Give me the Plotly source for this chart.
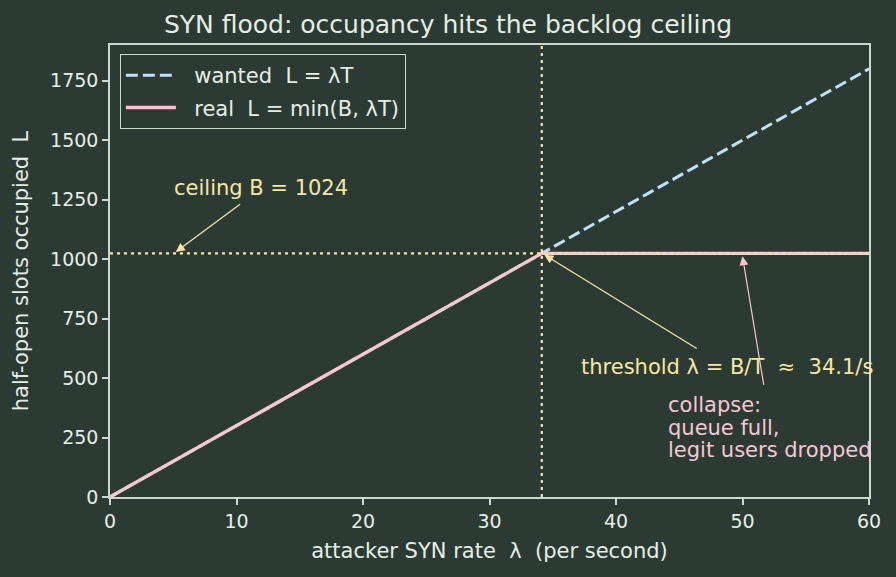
import numpy as np
import plotly.graph_objects as go

T = 30.0
B = 1024
lam = [0, 60]
wanted = [0, 1800]
real_x = [0, B / T, 60]
real_y = [0, B, B]
threshold = B / T

BG = "#2b3b34"
FG = "#e6eee4"
AX = "#c9d9cc"
YEL = "#f7e7a1"
PINK = "#f8c6d2"
BLUE = "#bfe1f7"
NB = "\u00a0"

fig = go.Figure()
fig.add_trace(go.Scatter(x=lam, y=wanted, mode="lines", name=f"{NB}{NB}wanted {NB}L = λT",
                         legendgroup="a",
                         line=dict(color=BLUE, width=3, dash="12px,5px")))
fig.add_trace(go.Scatter(x=real_x, y=real_y, mode="lines", name=f"{NB}{NB}real {NB}L = min(B, λT)",
                         legendgroup="b",
                         line=dict(color=PINK, width=3.3)))

fig.add_shape(type="line", x0=0, x1=60, y0=B, y1=B, xref="x", yref="y",
              line=dict(color=YEL, width=2.2, dash="3px,4px"))
fig.add_shape(type="line", x0=threshold, x1=threshold, y0=0, y1=1, xref="x", yref="paper",
              line=dict(color=YEL, width=2.2, dash="3px,4px"))

font = "DejaVu Sans"
fig.add_annotation(x=11.94, y=1300, text="ceiling B = 1024", showarrow=False,
                   font=dict(color=YEL, size=21, family=font), xref="x", yref="y")
fig.add_annotation(x=5.2, y=1030, ax=10.4, ay=1235, axref="x", ayref="y", text="",
                   showarrow=True, arrowhead=2, arrowsize=1.5, arrowwidth=1.2,
                   arrowcolor=YEL, xref="x", yref="y")
fig.add_annotation(x=48.77, y=547, text=f"threshold λ = B/T {NB}≈ {NB}34.1/s", showarrow=False,
                   font=dict(color=YEL, size=21, family=font), xref="x", yref="y")
fig.add_annotation(x=threshold + 0.2, y=1018, ax=46.5, ay=620, axref="x", ayref="y", text="",
                   showarrow=True, arrowhead=2, arrowsize=1.5, arrowwidth=1.2,
                   arrowcolor=YEL, xref="x", yref="y")
collapse_lines = ["collapse:", "queue full,", "legit users dropped"]
collapse_y = [387, 290, 198]
for txt, yy in zip(collapse_lines, collapse_y):
    fig.add_annotation(x=43.95, y=yy, text=txt, showarrow=False, xanchor="left",
                       yanchor="middle", font=dict(color=PINK, size=21, family=font),
                       xref="x", yref="y")
fig.add_annotation(x=50.0, y=1012, ax=51.7, ay=465, axref="x", ayref="y", text="",
                   showarrow=True, arrowhead=2, arrowsize=1.5, arrowwidth=1.2,
                   arrowcolor=PINK, xref="x", yref="y")

fig.update_layout(
    width=896, height=577,
    paper_bgcolor=BG, plot_bgcolor=BG,
    margin=dict(l=110, r=27, t=45, b=80),
    font=dict(family=font, color=FG, size=19),
    title=dict(text="SYN flood: occupancy hits the backlog ceiling", x=0.5, xanchor="center",
               y=0.958, yanchor="middle", font=dict(size=25, color=FG, family=font)),
    legend=dict(x=0.013, y=0.98, xanchor="left", yanchor="top", bgcolor=BG,
                bordercolor=AX, borderwidth=1, itemwidth=50, tracegroupgap=2,
                font=dict(size=21, color=FG, family=font)),
    showlegend=True,
)
fig.update_xaxes(range=[0, 60], tickvals=[0, 10, 20, 30, 40, 50, 60], showgrid=False,
                 zeroline=False, showline=True, linecolor=AX, linewidth=1.5, mirror=True,
                 ticks="outside", tickcolor=AX, ticklen=6, tickwidth=1.5,
                 title=dict(text=f"attacker SYN rate {NB}λ {NB}(per second)", font=dict(size=21), standoff=13),
                 tickfont=dict(size=19))
fig.update_yaxes(range=[0, 1900], tickvals=[0, 250, 500, 750, 1000, 1250, 1500, 1750],
                 showgrid=False, zeroline=False, showline=True, linecolor=AX, linewidth=1.5,
                 mirror=True, ticks="outside", tickcolor=AX, ticklen=6, tickwidth=1.5,
                 title=dict(text=f"half-open slots occupied {NB}L", font=dict(size=21), standoff=16),
                 tickfont=dict(size=19))

fig.write_html("out.html")
